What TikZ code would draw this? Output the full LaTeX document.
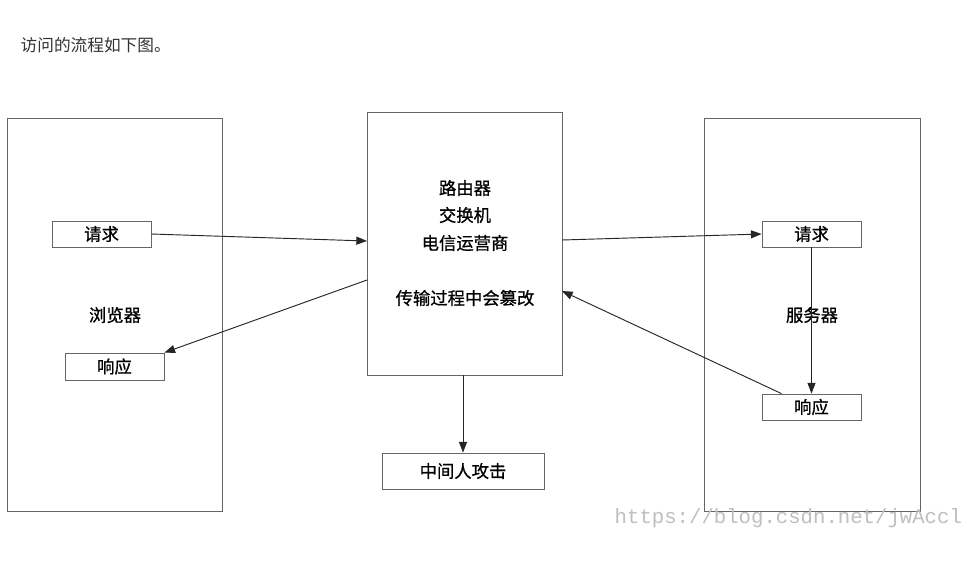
\documentclass[tikz,border=0pt]{standalone}
\usepackage{fontspec}
\newfontfamily\cjk[FakeBold=0.8]{Noto Sans CJK SC}
\newfontfamily\cjkt{Noto Sans CJK SC}
\newfontfamily\wm{Liberation Mono}
\usetikzlibrary{arrows.meta}
\begin{document}
\begin{tikzpicture}[x=0.75pt,y=-0.75pt,
  bigbox/.style={draw=gray!80!black,line width=0.6pt},
  small/.style={draw=gray!80!black,line width=0.6pt,font=\cjk\fontsize{13}{15}\selectfont},
  lbl/.style={font=\cjk\fontsize{13}{15}\selectfont},
  arr/.style={-{Triangle[length=8pt,width=6pt]},line width=0.7pt,black!85}]
\useasboundingbox[fill=white] (0,0) rectangle (980,582);
\node[anchor=west,font=\cjkt\fontsize{12.5}{15}\selectfont,text=black!80] (title) at (16,45) {访问的流程如下图。};
\draw[bigbox] (7,118) rectangle (222,511);
\draw[bigbox] (704,118) rectangle (920,511);
\node[bigbox,minimum width=195*0.75pt,minimum height=263*0.75pt,inner sep=0] (mid) at (464.5,243.5) {};
\node[lbl] (t1) at (465,188) {路由器};
\node[lbl] (t2) at (465,215) {交换机};
\node[lbl] (t3) at (465,243) {电信运营商};
\node[lbl] (t4) at (465,298) {传输过程中会篡改};
\node[small,minimum width=99*0.75pt,minimum height=26*0.75pt,inner sep=0] (lreq) at (101.5,234) {请求};
\node[small,minimum width=99*0.75pt,minimum height=27*0.75pt,inner sep=0] (lres) at (114.5,366.5) {响应};
\node[lbl] (browser) at (115,315) {浏览器};
\node[small,minimum width=99*0.75pt,minimum height=26*0.75pt,inner sep=0] (rreq) at (811.5,234) {请求};
\node[small,minimum width=99*0.75pt,minimum height=26*0.75pt,inner sep=0] (rres) at (811.5,407) {响应};
\node[lbl] (server) at (812,315) {服务器};
\node[small,minimum width=162*0.75pt,minimum height=36*0.75pt,inner sep=0] (mitm) at (463,471) {中间人攻击};
\coordinate (m1) at (367,241);
\coordinate (m2) at (562,240);
\coordinate (m3) at (367,280);
\coordinate (m4) at (562,291);
\coordinate (m5) at (463,375);
\draw[arr] (lreq.east) -- (m1);
\draw[arr] (m2) -- (rreq.west);
\draw[arr] (m3) -- (lres.north east);
\draw[arr] (rreq.south) -- (rres.north);
\draw[arr] ([xshift=-30*0.75pt]rres.north) -- (m4);
\draw[arr] (m5) -- (mitm.north);
\node[anchor=west,font=\wm\fontsize{15.5}{17}\selectfont,text=black!25] (wmk) at (610,518) {https://blog.csdn.net/jwAccl};
\end{tikzpicture}
\end{document}
